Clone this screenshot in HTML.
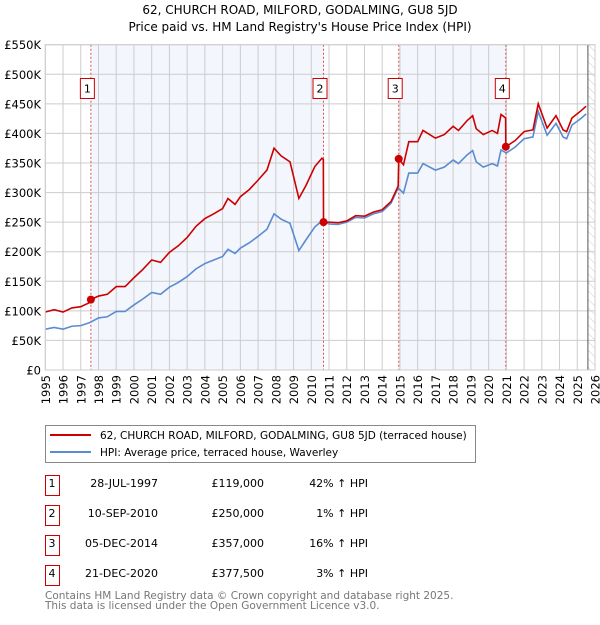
<!DOCTYPE html>
<html><head><meta charset="utf-8">
<style>
body{margin:0;background:#fff;font-family:"Liberation Sans","DejaVu Sans",sans-serif;}
svg text{font-family:"DejaVu Sans","Liberation Sans",sans-serif;}
</style></head>
<body>
<svg id="c" width="600" height="620" viewBox="0 0 600 620" xmlns="http://www.w3.org/2000/svg">
<defs>
<pattern id="hatch" width="6" height="6" patternUnits="userSpaceOnUse" patternTransform="rotate(-45)">
<line x1="0" y1="0" x2="0" y2="6" stroke="#ccc" stroke-width="1"/>
</pattern>
</defs>
<text x="300" y="14" text-anchor="middle" font-size="12">62, CHURCH ROAD, MILFORD, GODALMING, GU8 5JD</text>
<text x="300" y="31" text-anchor="middle" font-size="12">Price paid vs. HM Land Registry's House Price Index (HPI)</text>
<g id="plot"></g>
<g id="legend">
<rect x="45.5" y="425.5" width="430" height="37" fill="#fff" stroke="#888"/>
<line x1="50" y1="435" x2="91" y2="435" stroke="#cc0000" stroke-width="2"/>
<text x="100" y="439" font-size="10.5">62, CHURCH ROAD, MILFORD, GODALMING, GU8 5JD (terraced house)</text>
<line x1="50" y1="452" x2="91" y2="452" stroke="#5b8bd0" stroke-width="2"/>
<text x="100" y="456" font-size="10.5">HPI: Average price, terraced house, Waverley</text>
</g>
<g id="table"></g>
<text x="45" y="599" font-size="10.5" fill="#777">Contains HM Land Registry data © Crown copyright and database right 2025.</text>
<text x="45" y="609" font-size="10.5" fill="#777">This data is licensed under the Open Government Licence v3.0.</text>
</svg>
<script>
const hpiYears=[1995.0,1995.5,1996.0,1996.5,1997.0,1997.5,1998.0,1998.5,1999.0,1999.5,2000.0,2000.5,2001.0,2001.5,2002.0,2002.5,2003.0,2003.5,2004.0,2004.5,2005.0,2005.3,2005.7,2006.0,2006.5,2007.0,2007.5,2007.9,2008.3,2008.8,2009.3,2009.7,2010.2,2010.6,2011.0,2011.5,2012.0,2012.5,2013.0,2013.5,2014.0,2014.5,2014.9,2015.2,2015.5,2016.0,2016.3,2017.0,2017.5,2018.0,2018.3,2018.8,2019.1,2019.3,2019.7,2020.2,2020.5,2020.7,2021.0,2021.5,2022.0,2022.5,2022.8,2023.3,2023.8,2024.2,2024.4,2024.7,2025.2,2025.5];
const hpiValues=[69,72,69,74,75,80,88,90,99,99,110,120,131,128,140,148,158,171,180,186,192,204,197,206,215,226,238,264,255,248,202,220,242,252,247,246,250,258,257,264,268,282,308,299,333,333,349,338,343,355,349,364,371,352,343,349,345,372,367,377,391,394,437,397,417,394,391,414,425,433];
const priceYears=[1995.0,1995.5,1996.0,1996.5,1997.0,1997.5,1997.57,1998.0,1998.5,1999.0,1999.5,2000.0,2000.5,2001.0,2001.5,2002.0,2002.5,2003.0,2003.5,2004.0,2004.5,2005.0,2005.3,2005.7,2006.0,2006.5,2007.0,2007.5,2007.9,2008.3,2008.8,2009.3,2009.7,2010.2,2010.6,2010.68,2010.69,2011.0,2011.5,2012.0,2012.5,2013.0,2013.5,2014.0,2014.5,2014.9,2014.93,2015.2,2015.5,2016.0,2016.3,2017.0,2017.5,2018.0,2018.3,2018.8,2019.1,2019.3,2019.7,2020.2,2020.5,2020.7,2020.96,2020.97,2021.5,2022.0,2022.5,2022.8,2023.3,2023.8,2024.2,2024.4,2024.7,2025.2,2025.5];
const priceValues=[98,102,98,105,107,114,119,125,128,141,141,156,170,186,182,199,210,224,243,256,264,273,290,280,293,305,321,338,375,362,352,290,312,344,358,356,250,250,249,252,261,260,267,271,285,311,357,347,386,386,405,392,398,412,405,422,430,408,398,405,400,432,426,377.5,388,403,406,450,409,430,406,403,426,438,446];
const saleYears=[1997.57,2010.69,2014.93,2020.97];
const salePrices=[119,250,357,377.5];
const saleLabels=["1","2","3","4"];
const saleDates=["28-JUL-1997","10-SEP-2010","05-DEC-2014","21-DEC-2020"];
const salePriceText=["£119,000","£250,000","£357,000","£377,500"];
const salePctText=["42% ↑ HPI","1% ↑ HPI","16% ↑ HPI","3% ↑ HPI"];
const yTicks=[0,50,100,150,200,250,300,350,400,450,500,550];
const yTickLabels=["£0","£50K","£100K","£150K","£200K","£250K","£300K","£350K","£400K","£450K","£500K","£550K"];
const xTicks=[1995,1996,1997,1998,1999,2000,2001,2002,2003,2004,2005,2006,2007,2008,2009,2010,2011,2012,2013,2014,2015,2016,2017,2018,2019,2020,2021,2022,2023,2024,2025,2026];
const dataEnd=2025.6;

const X0=45.3,X1=595,Y0=370,Y1=44.7;
const xs=y=>X0+(y-1995)/(2026-1995)*(X1-X0);
const ys=v=>Y0-v/550*(Y0-Y1);
const NS="http://www.w3.org/2000/svg";
const plot=document.getElementById('plot');
function mk(tag,attrs,parent){const e=document.createElementNS(NS,tag);for(const k in attrs)e.setAttribute(k,attrs[k]);(parent||plot).appendChild(e);return e;}

for(let i=0;i<saleYears.length;i+=2){
 const r=mk('rect',{x:xs(saleYears[i]),y:Y1,width:xs(saleYears[i+1])-xs(saleYears[i]),height:Y0-Y1,fill:'#f3f6fd'});
 
 
}
const h=mk('rect',{x:xs(dataEnd),y:Y1,width:X1-xs(dataEnd),height:Y0-Y1,fill:'url(#hatch)'});


xTicks.forEach((t,i)=>{
 const l=mk('line',{x1:xs(t),x2:xs(t),y1:Y1,y2:Y0,stroke:'#cccccc','stroke-width':1});
 
 
 const tx=mk('text',{transform:`translate(${xs(t)+4.5},375) rotate(-90)`,'text-anchor':'end','font-size':11.5});
 tx.textContent=t;
 
 
});
yTicks.forEach((t,i)=>{
 const l=mk('line',{x1:X0,x2:X1,y1:ys(t),y2:ys(t),stroke:'#cccccc','stroke-width':1});
 
 
 const tx=mk('text',{x:41,y:ys(t)+4.5,'text-anchor':'end','font-size':11.5});
 tx.textContent=yTickLabels[i];
 
 
});
const dl=mk('line',{x1:xs(dataEnd),x2:xs(dataEnd),y1:Y1,y2:Y0,stroke:'#555','stroke-width':1});


saleYears.forEach((s,i)=>{
 const l=mk('line',{x1:xs(s),x2:xs(s),y1:Y1,y2:Y0,stroke:'#e05050','stroke-width':1,'stroke-dasharray':'2,2'});
 
 
 const b=mk('rect',{x:xs(s)-10.5,y:78.5,width:14,height:20,fill:'#fff',stroke:'#cc0000'});
 
 
 const t=mk('text',{x:xs(s)-3.5,y:92.5,'text-anchor':'middle','font-size':11});
 t.textContent=saleLabels[i];
 
 
});
const hp=mk('polyline',{points:hpiYears.map((y,i)=>xs(y)+','+ys(hpiValues[i])).join(' '),fill:'none',stroke:'#5b8bd0','stroke-width':1.6});


const pp=mk('polyline',{points:priceYears.map((y,i)=>xs(y)+','+ys(priceValues[i])).join(' '),fill:'none',stroke:'#cc0000','stroke-width':1.6});


saleYears.forEach((s,i)=>{
 const c=mk('circle',{cx:xs(s),cy:ys(salePrices[i]),r:4,fill:'#cc0000'});
 
 
});
const fr=mk('rect',{x:X0,y:Y1,width:X1-X0,height:Y0-Y1,fill:'none',stroke:'#cccccc'});


const tb=document.getElementById('table');
saleLabels.forEach((lab,i)=>{
 const y=487+i*30;
 const b=mk('rect',{x:45.5,y:y-11.5,width:14,height:20,fill:'#fff',stroke:'#cc0000'},tb);
 
 
 const cells=[[52,lab,'middle'],[158,saleDates[i],'end'],[264,salePriceText[i],'end'],[368,salePctText[i],'end']];
 cells.forEach(([x,txt,a])=>{
  const t=mk('text',{x:x,y:y,'text-anchor':a,'font-size':11},tb);
  t.textContent=txt;
  
  
 });
});
</script>
</body></html>
